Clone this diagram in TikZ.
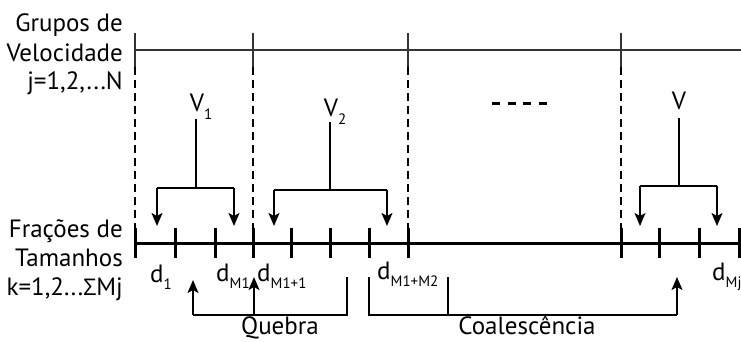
\documentclass[tikz,border=0pt]{standalone}
\usepackage{fontspec}
\setmainfont{PT Sans}
\newfontfamily\grk{Open Sans}
\usetikzlibrary{arrows.meta}
\newcommand\dsub[1]{\raisebox{-0.3em}{\fontsize{15}{15}\selectfont #1}}
\begin{document}
\begin{tikzpicture}[x=1pt,y=-1pt,
  lbl/.style={font=\fontsize{25}{29}\selectfont, inner sep=0pt},
  thinline/.style={line width=1.5pt, draw=black!80},
  thickline/.style={line width=3pt},
  tickmark/.style={line width=3pt},
  dashline/.style={line width=1.3pt, dash pattern=on 8pt off 5pt},
  conn/.style={line width=1.4pt},
  arr/.style={line width=1.4pt, -{Stealth[length=13pt,width=11pt,inset=3pt]}}]
\useasboundingbox (0,0) rectangle (741,342);
% left labels
\node[lbl, anchor=base east] (g1) at (123,32) {Grupos de};
\node[lbl, anchor=base east] (g2) at (123,62) {Velocidade};
\node[lbl, anchor=base east] (g3) at (123,90) {j=1,2,...N};
\node[lbl, anchor=base east] (f1) at (123,237) {Frações de};
\node[lbl, anchor=base east] (f2) at (123,266) {Tamanhos};
\node[lbl, anchor=base east] (f3) at (123,295) {k=1,2...{\grk\fontsize{23}{27}\selectfont Σ}Mj};
% top line
\coordinate (tA) at (135,50);
\coordinate (tE) at (741,50);
\draw[thinline] (tA) -- (tE);
\foreach \x/\n in {135/a,253/b,408/c,621/d}{
  \coordinate (tt\n) at (\x,33);
  \coordinate (tb\n) at (\x,67);
  \draw[thinline] (tt\n) -- (tb\n);
  \coordinate (bt\n) at (\x,228);
  \draw[dashline] (tb\n) -- (bt\n);
}
% bottom line
\coordinate (bA) at (135,243);
\coordinate (bE) at (741,243);
\draw[thickline] (bA) -- (bE);
\foreach \x in {135,175,215,253,291,330,369,408,621,659,699,739.5}{
  \draw[tickmark] (\x,228) -- (\x,258);
}
% V groups
\node[lbl, anchor=base] (v1) at (201,112) {V\dsub{1}};
\coordinate (v1b) at (196,188);
\draw[conn] (196,119) -- (v1b);
\coordinate (v1l) at (157,188);
\coordinate (v1r) at (234,188);
\draw[conn] (v1l) -- (v1r);
\draw[arr] (v1l) -- (157,226);
\draw[arr] (v1r) -- (234,226);

\node[lbl, anchor=base] (v2) at (335,117) {V\dsub{2}};
\coordinate (v2b) at (330,190);
\draw[conn] (330,122) -- (v2b);
\coordinate (v2l) at (274,190);
\coordinate (v2r) at (387,190);
\draw[conn] (v2l) -- (v2r);
\draw[arr] (v2l) -- (274,226);
\draw[arr] (v2r) -- (387,226);

\node[lbl, anchor=base] (v3) at (679,110) {V};
\coordinate (v3b) at (679,186);
\draw[conn] (679,118) -- (v3b);
\coordinate (v3l) at (640,186);
\coordinate (v3r) at (717,186);
\draw[conn] (v3l) -- (v3r);
\draw[arr] (v3l) -- (640,226);
\draw[arr] (v3r) -- (717,226);

% dots
\coordinate (dots1) at (492,104);
\coordinate (dots2) at (548,104);
\draw[line width=3pt, dash pattern=on 8pt off 7.7pt] (dots1) -- (dots2);

% d labels
\node[lbl, anchor=base west] (d1) at (150,282) {d\dsub{1}};
\node[lbl, anchor=base west] (dm1) at (216,281) {d\dsub{M1}};
\node[lbl, anchor=base west] (dm11) at (257,281) {d\dsub{M1+1}};
\node[lbl, anchor=base west] (dm12) at (377,279) {d\dsub{M1+M2}};
\node[lbl, anchor=base west] (dmj) at (712,280) {d\dsub{Mj}};

% Quebra
\coordinate (q1) at (193,315);
\coordinate (q2) at (254,315);
\coordinate (q3) at (347,315);
\coordinate (q3t) at (347,277);
\draw[conn] (q3t) -- (q3) -- (q1);
\draw[arr] (q1) -- (193,280);
\draw[arr] (q2) -- (254,277);
\node[lbl, anchor=base] (qb) at (280,334.5) {Quebra};

% Coalescencia
\coordinate (c1t) at (369,277);
\coordinate (c1) at (369,315);
\coordinate (c2) at (448,315);
\coordinate (c2t) at (448,277);
\coordinate (c3) at (677,315);
\draw[conn] (c1t) -- (c1) -- (c3);
\draw[conn] (c2) -- (c2t);
\draw[arr] (c3) -- (677,277);
\node[lbl, anchor=base] (cb) at (527,334.5) {Coalescência};
\end{tikzpicture}
\end{document}
